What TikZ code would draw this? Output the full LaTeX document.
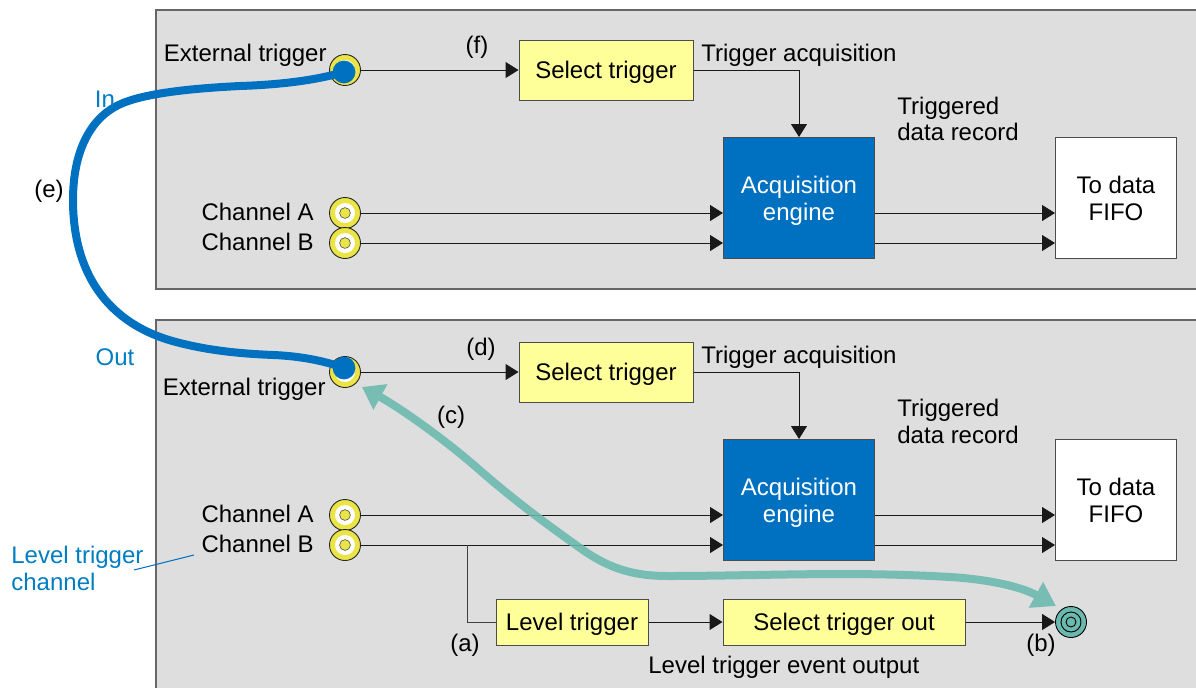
\documentclass[tikz,border=0pt]{standalone}
\usepackage{fontspec}
\setmainfont{Liberation Sans}
\usetikzlibrary{arrows.meta}
\definecolor{panelgray}{RGB}{222,222,222}
\definecolor{boxyellow}{RGB}{255,255,153}
\definecolor{jackyellow}{RGB}{235,228,70}
\definecolor{engineblue}{RGB}{0,112,192}
\definecolor{cabletext}{RGB}{0,125,195}
\definecolor{cableteal}{RGB}{105,185,175}
\tikzset{
	panel/.style={draw=black!60,fill=panelgray,line width=.6pt},
	label/.style={font=\fontsize{12}{13.5}\selectfont,text=black,inner sep=0pt,align=left},
	bluelabel/.style={label,text=cabletext},
	selectbox/.style={draw=black!70,fill=boxyellow,line width=.5pt,minimum height=30pt,inner sep=0pt,text height=8.6pt,text depth=0pt,font=\fontsize{12}{13.5}\selectfont},
	engine/.style={draw=black!70,fill=engineblue,text=white,line width=.5pt,minimum width=75.5pt,minimum height=60.5pt,inner sep=0pt,align=center,text depth=0pt,font=\fontsize{12}{13.5}\selectfont},
	fifo/.style={draw=black!70,fill=white,line width=.5pt,minimum width=60.5pt,minimum height=60.5pt,inner sep=0pt,align=center,text depth=0pt,font=\fontsize{12}{13.5}\selectfont},
	jackouter/.style={circle,draw=black!85,fill=jackyellow,line width=.45pt,minimum size=15.5pt,inner sep=0pt},
	jackring/.style={circle,fill=white,minimum size=10pt,inner sep=0pt},
	jackinner/.style={circle,draw=black!70,fill=jackyellow,line width=.3pt,minimum size=5.4pt,inner sep=0pt},
	tealring/.style={circle,draw=black,fill=cableteal,line width=.45pt,minimum size=#1,inner sep=0pt},
	wire/.style={draw=black!90,line width=.5pt,-{Triangle[length=6.5pt,width=8pt]}},
	plainwire/.style={draw=black!75,line width=.5pt},
	cable/.style={draw=engineblue,line width=4pt},
	teal/.style={draw=cableteal,line width=4pt,{Triangle[length=10.5pt,width=14pt]}-{Triangle[length=11.5pt,width=14pt]}},
	leader/.style={draw=engineblue,line width=.5pt}
}
\newcommand{\jack}[2]{%
	\node[jackouter] (#1) at (#2) {};
	\node[jackring] (#1ring) at (#1) {};
	\node[jackinner] (#1pin) at (#1) {};
}
\begin{document}
\begin{tikzpicture}[x=.5pt,y=-.5pt]
	\useasboundingbox (0,0) rectangle (1196,687);
	\begin{scope}
		\clip (0,0) rectangle (1196,687);
		\draw[panel] (156,10) rectangle (1210,289);
		\draw[panel] (156,320) rectangle (1210,700);
	\end{scope}
	% top panel
	\jack{exttop}{345,70}
	\jack{chatop}{345,213}
	\jack{chbtop}{345,243}
	\node[selectbox,minimum width=87pt] (seltop) at (606,70) {Select trigger};
	\node[engine] (engtop) at (799,198) {Acquisition\\engine};
	\node[fifo] (fifotop) at (1116,198) {To data\\FIFO};
	\coordinate (engtopa) at (engtop.west |- chatop);
	\coordinate (engtopb) at (engtop.west |- chbtop);
	\coordinate (fifotopa) at (fifotop.west |- chatop);
	\coordinate (fifotopb) at (fifotop.west |- chbtop);
	\coordinate (engtopc) at (engtop.east |- chatop);
	\coordinate (engtopd) at (engtop.east |- chbtop);
	\draw[wire] (exttop.east) -- (seltop.west);
	\draw[wire] (chatop.east) -- (engtopa);
	\draw[wire] (chbtop.east) -- (engtopb);
	\draw[wire] (engtopc) -- (fifotopa);
	\draw[wire] (engtopd) -- (fifotopb);
	\draw[wire] (seltop.east) -| (engtop.north);
	\node[label,anchor=east] (lexttop) at (327,55) {External trigger};
	\node[label,anchor=east] (lchatop) at (314,212) {Channel A};
	\node[label,anchor=east] (lchbtop) at (314,242) {Channel B};
	\node[label] (lf) at (477,47) {(f)};
	\node[label,anchor=west] (ltrigtop) at (701,55) {Trigger acquisition};
	\node[label,anchor=west] (lrectop) at (897,119) {Triggered\\[-.5pt]data record};
	% bottom panel
	\jack{extbot}{345,372}
	\jack{chabot}{345,515}
	\jack{chbbot}{345,545}
	\node[selectbox,minimum width=87pt] (selbot) at (606,372) {Select trigger};
	\node[engine] (engbot) at (799,500) {Acquisition\\engine};
	\node[fifo] (fifobot) at (1116,500) {To data\\FIFO};
	\node[selectbox,minimum width=76pt,minimum height=23pt] (lvl) at (572,622) {Level trigger};
	\node[selectbox,minimum width=121pt,minimum height=23pt] (selout) at (844,622) {Select trigger out};
	\node[tealring=15.5pt] (out) at (1071,622) {};
	\node[tealring=10pt] (outring) at (out) {};
	\node[tealring=5pt] (outpin) at (out) {};
	\coordinate (engbota) at (engbot.west |- chabot);
	\coordinate (engbotb) at (engbot.west |- chbbot);
	\coordinate (fifobota) at (fifobot.west |- chabot);
	\coordinate (fifobotb) at (fifobot.west |- chbbot);
	\coordinate (engbotc) at (engbot.east |- chabot);
	\coordinate (engbotd) at (engbot.east |- chbbot);
	\coordinate (branch) at (467,545);
	\draw[wire] (extbot.east) -- (selbot.west);
	\draw[wire] (chabot.east) -- (engbota);
	\draw[wire] (chbbot.east) -- (engbotb);
	\draw[wire] (engbotc) -- (fifobota);
	\draw[wire] (engbotd) -- (fifobotb);
	\draw[wire] (selbot.east) -| (engbot.north);
	\draw[plainwire] (branch) |- (lvl.west);
	\draw[wire] (lvl.east) -- (selout.west);
	\draw[wire] (selout.east) -- (out.west);
	\node[label,anchor=east] (lextbot) at (326,389) {External trigger};
	\node[label,anchor=east] (lchabot) at (314,514) {Channel A};
	\node[label,anchor=east] (lchbbot) at (314,544) {Channel B};
	\node[label] (ld) at (481,349) {(d)};
	\node[label] (lc) at (451,417) {(c)};
	\node[label] (la) at (465,645) {(a)};
	\node[label] (lb) at (1041,645) {(b)};
	\node[label,anchor=west] (ltrigbot) at (701,357) {Trigger acquisition};
	\node[label,anchor=west] (lrecbot) at (897,421.5) {Triggered\\data record};
	\node[label,anchor=west] (levent) at (648,667) {Level trigger event output};
	% cables
	\coordinate (lvlend) at (134,570);
	\coordinate (lvlstart) at (194,555);
	\node[bluelabel,anchor=west] (lleveltrig) at (11,568.5) {Level trigger\\channel};
	\draw[leader] (lvlend) -- (lvlstart);
	\coordinate (cabletop) at (344,72);
	\coordinate (cablebot) at (344,368);
	\draw[cable] (cabletop) .. controls (310,82) and (270,85) .. (240,86) .. controls (200,88) and (150,92) .. (123,103) .. controls (95,114) and (73,145) .. (73,200) .. controls (73,270) and (105,325) .. (180,343) .. controls (215,352) and (250,354) .. (273,355) .. controls (300,356) and (325,361) .. (cablebot);
	\fill[engineblue] (cabletop) circle (5.7pt);
	\fill[engineblue] (cablebot) circle (5.7pt);
	\node[bluelabel] (lin) at (105,99) {In};
	\node[bluelabel] (lout) at (115,357) {Out};
	\node[label] (le) at (49,191) {(e)};
	\coordinate (tealback) at (362,387);
	\coordinate (tealend) at (1056,606);
	\begin{scope}[transparency group,opacity=.88]
		\draw[teal] (tealback) .. controls (395,405) and (440,435) .. (483,473) .. controls (520,505) and (552,528) .. (583,550) .. controls (610,569) and (635,576) .. (667,576) .. controls (760,576) and (850,571) .. (950,577) .. controls (985,579) and (1020,586) .. (tealend);
	\end{scope}
\end{tikzpicture}
\end{document}
